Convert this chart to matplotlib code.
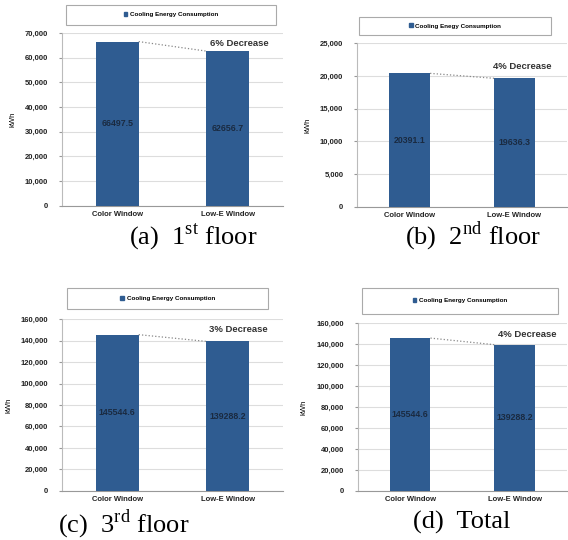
import numpy as np
import matplotlib.pyplot as plt
from matplotlib.patches import Rectangle, Patch

# data
categories = ['Color Window', 'Low-E Window']
floor1 = [66497.5, 62656.7]
floor2 = [20391.1, 19636.3]
floor3 = [145544.6, 139288.2]
total = [145544.6, 139288.2]
decrease = ['6% Decrease', '4% Decrease', '3% Decrease', '4% Decrease']
legend_names = ['Cooling Energy Consumption', 'Cooling Enegy Consumption',
                'Cooling Energy Consumption', 'Cooling Energy Consumption']
captions = ['(a)  1$^{\\mathregular{st}}$ floor', '(b)  2$^{\\mathregular{nd}}$ floor',
            '(c)  3$^{\\mathregular{rd}}$ floor', '(d)  Total']
ymax = [70000, 25000, 160000, 160000]
ystep = [10000, 5000, 20000, 20000]

bar_color = '#2f5c91'
plt.rcParams['font.family'] = ['Liberation Sans', 'DejaVu Sans']

fig = plt.figure(figsize=(5.68, 5.40), dpi=100)

axes_pos = [[0.109, 0.619, 0.389, 0.320],
            [0.629, 0.617, 0.369, 0.303],
            [0.109, 0.091, 0.389, 0.318],
            [0.630, 0.091, 0.368, 0.311]]
legend_pos = [[0.116, 0.954, 0.370, 0.037],
              [0.632, 0.935, 0.338, 0.034],
              [0.118, 0.428, 0.354, 0.039],
              [0.637, 0.419, 0.345, 0.048]]
dec_pos = [(0.805, 0.94), (0.786, 0.86), (0.80, 0.94), (0.81, 0.93)]
caption_pos = [(0.34, 0.561), (0.833, 0.562), (0.218, 0.03), (0.813, 0.033)]

series = [floor1, floor2, floor3, total]
x = np.arange(len(categories))
w = 0.39

for i in range(4):
    ax = fig.add_axes(axes_pos[i])
    vals = series[i]
    bars = ax.bar(x, vals, width=w, color=bar_color, zorder=3)
    ax.set_xlim(-0.5, 1.5)
    ax.set_ylim(0, ymax[i])
    ax.set_yticks(np.arange(0, ymax[i] + 1, ystep[i]))
    ax.yaxis.set_major_formatter(plt.FuncFormatter(lambda v, p: '{:,.0f}'.format(v)))
    ax.set_xticks(x)
    ax.set_xticklabels(categories, fontsize=5.5, fontweight='bold', color='#222222')
    ax.tick_params(axis='y', labelsize=5.5, length=2, color='#999999', pad=8)
    ax.tick_params(axis='x', length=0, pad=4)
    for lab in ax.get_yticklabels():
        lab.set_fontweight('bold')
        lab.set_color('#222222')
    ax.grid(axis='y', color='#dddddd', linewidth=0.8, zorder=0)
    for s in ['top', 'right']:
        ax.spines[s].set_visible(False)
    ax.spines['left'].set_color('#bbbbbb')
    ax.spines['bottom'].set_color('#999999')
    ax.set_ylabel('kWh', fontsize=5.5, labelpad=6)

    # value labels
    for b, v in zip(bars, vals):
        ax.text(b.get_x() + b.get_width() / 2, v / 2, '{:.1f}'.format(v),
                ha='center', va='center', fontsize=6.3, fontweight='bold', color='#1a2a40')
    # connecting dotted line
    ax.plot([x[0] + w / 2, x[1] - w / 2], [vals[0], vals[1]], color='#888888',
            linestyle=':', linewidth=0.9, zorder=4)
    ax.text(dec_pos[i][0], dec_pos[i][1], decrease[i], transform=ax.transAxes,
            ha='center', va='center', fontsize=6.8, fontweight='bold', color='#333333')

    # legend box
    lp = legend_pos[i]
    fig.add_artist(Rectangle((lp[0], lp[1]), lp[2], lp[3], transform=fig.transFigure,
                             facecolor='white', edgecolor='#aaaaaa', linewidth=0.8))
    fig.legend(handles=[Patch(color=bar_color, label=legend_names[i])],
               loc='center', bbox_to_anchor=(lp[0] + lp[2] / 2, lp[1] + lp[3] / 2),
               frameon=False, handlelength=0.6, handleheight=0.6,
               handletextpad=0.4, prop={'weight': 'bold', 'size': 4.5})

    fig.text(caption_pos[i][0], caption_pos[i][1], captions[i], ha='center', va='center',
             fontsize=19, family=['Liberation Serif', 'DejaVu Serif'])

fig.savefig('out.png', dpi=100)
